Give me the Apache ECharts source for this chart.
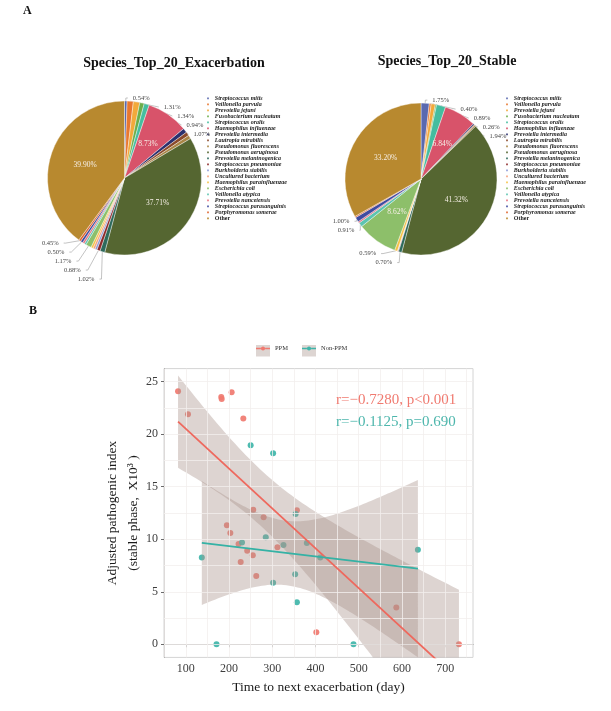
<!DOCTYPE html>
<html><head><meta charset="utf-8">
<script src="https://cdn.jsdelivr.net/npm/echarts@6/dist/echarts.min.js"></script>
<style>html,body{margin:0;padding:0;background:#fff}#c{width:611px;height:711px}</style>
</head><body><div id="c"></div>
<script>
// ---------------- data ----------------
const species = ['Streptococcus mitis','Veillonella parvula','Prevotella jejuni','Fusobacterium nucleatum','Streptococcus oralis','Haemophilus influenzae','Prevotella intermedia','Lautropia mirabilis','Pseudomonas fluorescens','Pseudomonas aeruginosa','Prevotella melaninogenica','Streptococcus pneumoniae','Burkholderia stabilis','Uncultured bacterium','Haemophilus parainfluenzae','Escherichia coli','Veillonella atypica','Prevotella nanceiensis','Streptococcus parasanguinis','Porphyromonas somerae','Other'];
const exacerbationPct = [0.54,1.31,1.34,0.94,1.07,8.73,0.95,0.80,0.75,37.71,1.02,0.68,0.44,0.44,0.45,1.17,0.40,0.41,0.50,0.45,39.90];
const stablePct = [1.75,0.40,0.89,0.26,1.94,6.84,0.25,0.20,0.25,41.32,0.70,0.15,0.05,0.05,0.59,8.62,0.91,0.35,1.00,0.28,33.20];
const exacerbationLabelled = ['Streptococcus mitis','Veillonella parvula','Prevotella jejuni','Fusobacterium nucleatum','Streptococcus oralis','Haemophilus influenzae','Pseudomonas aeruginosa','Prevotella melaninogenica','Streptococcus pneumoniae','Escherichia coli','Streptococcus parasanguinis','Porphyromonas somerae','Other'];
const stableLabelled = ['Streptococcus mitis','Veillonella parvula','Prevotella jejuni','Fusobacterium nucleatum','Streptococcus oralis','Haemophilus influenzae','Pseudomonas aeruginosa','Prevotella melaninogenica','Haemophilus parainfluenzae','Escherichia coli','Veillonella atypica','Streptococcus parasanguinis','Other'];
const speciesColors = ['#5a69b0','#e8772f','#f2a93b','#6cae4a','#45bd9f','#d8536a','#2c306e','#8b4a2b','#a98545','#556631','#2e6a5c','#8e2a2a','#8c9ad8','#f4a07a','#f6c245','#8dbf6a','#5cc4b0','#e7707f','#3f4ba0','#df642e','#b8892f'];

const ppmDays  = [82,105,182,183,206,233,256,280,357,195,203,222,242,255,227,312,263,402,587,732];
const ppmIndex = [24.1,21.9,23.55,23.36,24.0,21.5,12.8,12.1,12.76,11.33,10.6,9.55,8.9,8.48,7.84,9.24,6.5,1.14,3.5,0];
const nonPpmDays  = [250,302,354,230,285,326,380,137,302,353,357,171,411,637,488];
const nonPpmIndex = [18.95,18.2,12.4,9.7,10.2,9.46,9.65,8.26,5.87,6.67,4.0,0,8.26,9.0,0];
// fitted lines as drawn in the picture (value at the data's min and max day)
const ppmFitEnds = [21.2, -3.45];
const nonPpmFitEnds = [9.65, 7.2];
const xTicks = [100,200,300,400,500,600,700];
const yTicks = [0,5,10,15,20,25];

// ---------------- helpers ----------------
const F = '"Liberation Serif","Times New Roman",serif';
function fitBand(xs, ys, ends, tcrit) {
  const n = xs.length;
  const x0 = Math.min(...xs), x1 = Math.max(...xs);
  const b = (ends[1] - ends[0]) / (x1 - x0), a = ends[0] - b * x0;
  const mx = xs.reduce((s, v) => s + v, 0) / n;
  const sxx = xs.reduce((s, v) => s + (v - mx) * (v - mx), 0);
  const sse = xs.reduce((s, v, i) => s + Math.pow(ys[i] - (a + b * v), 2), 0);
  const sd = Math.sqrt(sse / (n - 2));
  const upper = [], lower = [];
  const K = 80;
  for (let k = 0; k < K; k++) {
    const x = x0 + (x1 - x0) * k / (K - 1);
    const h = tcrit * sd * Math.sqrt(1 / n + (x - mx) * (x - mx) / sxx);
    upper.push([x, a + b * x + h]);
    lower.push([x, a + b * x - h]);
  }
  return { poly: upper.concat(lower.reverse()), line: [[x0, a + b * x0], [x1, a + b * x1]] };
}
const ppmBand = fitBand(ppmDays, ppmIndex, ppmFitEnds, 2.1009);      // t(0.975, 18)
const nonBand = fitBand(nonPpmDays, nonPpmIndex, nonPpmFitEnds, 2.1604); // t(0.975, 13)

function clipPoly(pts, r) {
  const xmin = r.x, xmax = r.x + r.width, ymin = r.y, ymax = r.y + r.height;
  const planes = [
    [p => p[0] >= xmin, (a, b) => { const t = (xmin - a[0]) / (b[0] - a[0]); return [xmin, a[1] + t * (b[1] - a[1])]; }],
    [p => p[0] <= xmax, (a, b) => { const t = (xmax - a[0]) / (b[0] - a[0]); return [xmax, a[1] + t * (b[1] - a[1])]; }],
    [p => p[1] >= ymin, (a, b) => { const t = (ymin - a[1]) / (b[1] - a[1]); return [a[0] + t * (b[0] - a[0]), ymin]; }],
    [p => p[1] <= ymax, (a, b) => { const t = (ymax - a[1]) / (b[1] - a[1]); return [a[0] + t * (b[0] - a[0]), ymax]; }]
  ];
  let out = pts;
  for (const [inside, inter] of planes) {
    const inp = out; out = [];
    for (let i = 0; i < inp.length; i++) {
      const cur = inp[i], prev = inp[(i + inp.length - 1) % inp.length];
      const ci = inside(cur), pi = inside(prev);
      if (ci) { if (!pi) out.push(inter(prev, cur)); out.push(cur); }
      else if (pi) out.push(inter(prev, cur));
    }
    if (!out.length) break;
  }
  return out;
}

function pieData(vals, labelled) {
  return species.map((n, i) => {
    const v = vals[i];
    let label, labelLine;
    if (labelled.indexOf(n) < 0) { label = { show: false }; labelLine = { show: false }; }
    else if (v > 5) { label = { show: true, position: 'inside', color: '#f6efe6', fontSize: 7.5, fontFamily: F }; labelLine = { show: false }; }
    else { label = { show: true, position: 'outside' }; labelLine = { show: true }; }
    return { name: n, value: v, label, labelLine };
  });
}
function pieSeries(vals, labelled, center, r) {
  return {
    type: 'pie', center, radius: r, startAngle: 90, clockwise: true,
    avoidLabelOverlap: true, silent: true, z: 3,
    itemStyle: { borderColor: '#fff', borderWidth: 0.4 },
    label: { formatter: p => p.percent.toFixed(2) + '%', fontFamily: F, fontSize: 6.5, color: '#444' },
    labelLine: { length: 3, length2: 2, lineStyle: { color: '#9a9a9a', width: 0.6 } },
    data: pieData(vals, labelled)
  };
}
function pieLegend(left) {
  return {
    data: species, orient: 'vertical', left, top: 95.4, padding: 0, z: 2,
    itemWidth: 3.6, itemHeight: 3.6, itemGap: 0, icon: 'rect', selectedMode: false,
    formatter: n => n === 'Other' ? '{o|Other}' : '{i|' + n + '}',
    textStyle: { rich: {
      i: { fontFamily: F, fontStyle: 'italic', fontWeight: 'bold', fontSize: 6, lineHeight: 7.75, color: '#222' },
      o: { fontFamily: F, fontWeight: 'bold', fontSize: 6, lineHeight: 7.75, color: '#222' }
    } }
  };
}

const RED = '#F07A70', TEAL = '#3FB5A9', BAND = 'rgba(170,148,141,0.4)';
const minorX = xTicks.map(v => v - 50).concat([xTicks[xTicks.length - 1] + 50]);
const minorY = yTicks.map(v => v + 2.5).filter(v => v < 26.25);
const gridVals = xTicks.concat(minorX).map(v => ({ xAxis: v })).concat(yTicks.concat(minorY).map(v => ({ yAxis: v })));

function bandSeries(name, band) {
  return {
    type: 'custom', name: name, coordinateSystem: 'cartesian2d', data: [band.poly[0]], z: 3, silent: true,
    renderItem: (params, api) => {
      if (params.dataIndex !== 0) return null;
      const px = band.poly.map(p => api.coord(p));
      return { type: 'polygon', shape: { points: clipPoly(px, params.coordSys) }, style: { fill: BAND }, silent: true };
    }
  };
}

const option = {
  animation: false,
  color: speciesColors,
  graphic: [
    { type: 'text', left: 23, top: 5, style: { text: 'A', font: 'bold 12px ' + F, fill: '#111' } },
    { type: 'text', left: 29, top: 305, style: { text: 'B', font: 'bold 12px ' + F, fill: '#111' } },
    { type: 'text', x: 174, y: 63, style: { text: 'Species_Top_20_Exacerbation', font: 'bold 14px ' + F, fill: '#111', textAlign: 'center', textVerticalAlign: 'middle' } },
    { type: 'text', x: 447, y: 61, style: { text: 'Species_Top_20_Stable', font: 'bold 14px ' + F, fill: '#111', textAlign: 'center', textVerticalAlign: 'middle' } },
    { type: 'text', left: 336, top: 393, z: 10, style: { text: 'r=\u22120.7280, p<0.001', font: '15px ' + F, fill: RED } },
    { type: 'text', left: 336, top: 415, z: 10, style: { text: 'r=\u22120.1125, p=0.690', font: '15px ' + F, fill: '#4DB6AC' } }
  ],
  legend: [
    pieLegend(205.2),
    pieLegend(504.2),
    { data: ['PPM', 'Non-PPM'], left: 256, top: 345, padding: 0, itemWidth: 14, itemHeight: 11.5, itemGap: 14,
      icon: 'rect', itemStyle: { color: '#ddd5d2', borderWidth: 0 }, selectedMode: false, z: 3,
      textStyle: { fontFamily: F, fontSize: 6.5, color: 'rgba(0,0,0,0)' } },
    { data: ['PPM', 'Non-PPM'], left: 256, top: 345, padding: 0, itemWidth: 14, itemHeight: 11.5, itemGap: 14,
      icon: 'path://M0,4.3h4.9v1.6h-4.9z M9.1,4.3h4.9v1.6h-4.9z M4.9,5.1a2.1,2.1 0 1,0 4.2,0a2.1,2.1 0 1,0 -4.2,0z',
      selectedMode: false, z: 4,
      textStyle: { fontFamily: F, fontSize: 6.5, color: '#333' } }
  ],
  grid: { left: 164, top: 368.6, width: 309, height: 288.8, show: true, borderColor: '#d4d4d4', borderWidth: 1, backgroundColor: 'transparent' },
  xAxis: {
    type: 'value', min: 49.5, max: 764.5,
    name: 'Time to next exacerbation (day)', nameLocation: 'middle', nameGap: 23, nameMoveOverlap: false,
    nameTextStyle: { fontFamily: F, fontSize: 13.5, color: '#1a1a1a' },
    axisLine: { show: true, lineStyle: { color: '#8a8a8a', width: 1 } },
    axisTick: { show: true, length: 3, customValues: xTicks, lineStyle: { color: '#6a6a6a' } },
    axisLabel: { customValues: xTicks, fontFamily: F, fontSize: 12, color: '#3d3d3d', margin: 5 },
    splitLine: { show: false }
  },
  yAxis: {
    type: 'value', min: -1.25, max: 26.25,
    name: 'Adjusted pathogenic index\n(stable phase,  X10\u00b3 )', nameLocation: 'middle', nameGap: 20, nameMoveOverlap: false,
    nameTextStyle: { fontFamily: F, fontSize: 13.5, lineHeight: 21, color: '#1a1a1a' },
    axisLine: { show: true, lineStyle: { color: '#8a8a8a', width: 1 } },
    axisTick: { show: true, length: 3, customValues: yTicks, lineStyle: { color: '#6a6a6a' } },
    axisLabel: { customValues: yTicks, fontFamily: F, fontSize: 12, color: '#3d3d3d', margin: 6 },
    splitLine: { show: false }
  },
  series: [
    { type: 'line', name: 'PPM', data: ppmBand.line, showSymbol: false, symbol: 'circle', color: RED,
      lineStyle: { color: '#EE695E', width: 1.8 }, z: 5, silent: true },
    { type: 'line', name: 'Non-PPM', data: nonBand.line, showSymbol: false, symbol: 'circle', color: TEAL,
      lineStyle: { color: '#35B2A5', width: 1.8 }, z: 5, silent: true },
    { type: 'line', name: 'grid', data: [], silent: true, z: 0,
      markLine: { silent: true, symbol: 'none', label: { show: false }, animation: false,
        lineStyle: { color: '#f3efee', type: 'solid', width: 0.8 }, data: gridVals } },
    { type: 'scatter', name: 'PPM', data: ppmDays.map((d, i) => [d, ppmIndex[i]]), symbolSize: 6,
      itemStyle: { color: RED, opacity: 0.92 }, z: 2 },
    { type: 'scatter', name: 'Non-PPM', data: nonPpmDays.map((d, i) => [d, nonPpmIndex[i]]), symbolSize: 6,
      itemStyle: { color: TEAL, opacity: 0.92 }, z: 2 },
    bandSeries('ppm band', ppmBand),
    bandSeries('non band', nonBand),
    pieSeries(exacerbationPct, exacerbationLabelled, [124.5, 178], 77),
    pieSeries(stablePct, stableLabelled, [421, 179], 76)
  ]
};
const chart = echarts.init(document.getElementById('c'));
chart.setOption(option);
</script></body></html>
